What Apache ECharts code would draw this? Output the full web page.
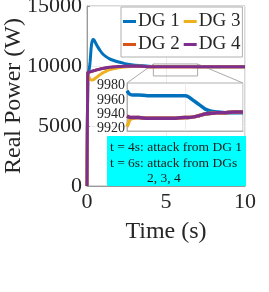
<!DOCTYPE html>
<html>
<head>
<meta charset="utf-8">
<script src="https://cdn.jsdelivr.net/npm/echarts@6/dist/echarts.min.js"></script>
<style>html,body{margin:0;padding:0;background:#fff;}#c{width:269px;height:292px;}</style>
</head>
<body>
<div id="c"></div>
<script>
// ---- main plot data ----
const timeMain = [0, 0.05, 0.1, 0.15, 0.2, 0.25, 0.3, 0.38, 0.45, 0.55, 0.7, 0.85, 1.0, 1.2, 1.4, 1.65, 2.0, 2.4, 2.8, 3.3, 4, 5, 6, 7, 8, 9, 10];
const dg1Main = [0, 9300, 9500, 9800, 10400, 11300, 11900, 12200, 12150, 11900, 11550, 11250, 11000, 10780, 10620, 10480, 10330, 10200, 10110, 10040, 9972, 9967, 9966, 9943, 9942, 9942, 9942];
const dg2Main = [0, 9440, 9470, 9490, 9510, 9530, 9550, 9580, 9610, 9650, 9700, 9750, 9790, 9840, 9880, 9915, 9945, 9965, 9978, 9984, 9937, 9934, 9935, 9942, 9943, 9943, 9943];
const dg3Main = [0, 9300, 9150, 9000, 8900, 8850, 8830, 8850, 8900, 9000, 9150, 9300, 9430, 9560, 9670, 9770, 9860, 9925, 9958, 9983, 9924, 9934, 9935, 9942, 9943, 9943, 9943];
const dg4Main = [0, 9450, 9480, 9500, 9520, 9540, 9560, 9590, 9620, 9660, 9710, 9760, 9800, 9850, 9890, 9920, 9950, 9970, 9980, 9985, 9937, 9934, 9935, 9942, 9943, 9943, 9943];
// ---- inset (zoom) data ----
const timeInset = [4, 4.05, 4.1, 4.2, 4.4, 4.7, 5, 5.5, 6, 6.1, 6.3, 6.5, 6.7, 6.9, 7.1, 7.4, 7.7, 8];
const dg1Inset = [9973, 9970, 9968, 9967, 9967, 9966, 9966, 9966, 9966, 9965, 9959, 9953, 9947, 9944, 9943, 9942, 9942, 9942];
const dg2Inset = [9937, 9936, 9935, 9935, 9935, 9934, 9934, 9934, 9935, 9935, 9936, 9938, 9940, 9941, 9942, 9942, 9943, 9943];
const dg3Inset = [9922, 9927, 9932, 9934, 9935, 9934, 9934, 9934, 9935, 9935, 9936, 9938, 9940, 9941, 9942, 9942, 9943, 9943];
const dg4Inset = [9937, 9936, 9935, 9935, 9935, 9934, 9934, 9934, 9935, 9935, 9936, 9938, 9940, 9941, 9942, 9942, 9943, 9943];
// ---- labels / ticks ----
const seriesNames = ['DG 1', 'DG 2', 'DG 3', 'DG 4'];
const legendOrder = ['DG 1', 'DG 3', 'DG 2', 'DG 4'];
const insetTicks = [9920, 9940, 9960, 9980];
const zoomBoxTime = [4.2, 7];
const zoomBoxPower = [9170, 10170];
const noteLines = ['t = 4s: attack from DG 1', 't = 6s: attack from DGs', '2, 3, 4'];

const colors = ['#0072BD', '#D95319', '#EDB120', '#7E2F8E'];
const FONT = '"Liberation Serif", "Times New Roman", serif';
const mainData = [dg1Main, dg2Main, dg3Main, dg4Main];
const insetData = [dg1Inset, dg2Inset, dg3Inset, dg4Inset];
const zip = (a, b) => a.map((v, i) => [v, b[i]]);
const plain = v => String(v);

const chart = echarts.init(document.getElementById('c'), null, {renderer: 'canvas'});

const series = [];
seriesNames.forEach((n, i) => {
  series.push({
    name: n, type: 'line', xAxisIndex: 0, yAxisIndex: 0,
    data: zip(timeMain, mainData[i]), showSymbol: false, smooth: 0.2,
    lineStyle: {color: colors[i], width: 3}, itemStyle: {color: colors[i]},
    z: 2 + i, animation: false,
    markArea: i === 0 ? {
      silent: true,
      itemStyle: {color: 'rgba(0,0,0,0)', borderColor: '#aaaaaa', borderWidth: 1},
      data: [[{coord: [zoomBoxTime[0], zoomBoxPower[1]]}, {coord: [zoomBoxTime[1], zoomBoxPower[0]]}]]
    } : undefined
  });
});
seriesNames.forEach((n, i) => {
  series.push({
    name: n, type: 'line', xAxisIndex: 1, yAxisIndex: 1,
    data: zip(timeInset, insetData[i]), showSymbol: false, smooth: 0.2,
    lineStyle: {color: colors[i], width: 3.5}, itemStyle: {color: colors[i]},
    z: 20 + i, animation: false
  });
});

const option = {
  animation: false,
  backgroundColor: '#ffffff',
  textStyle: {fontFamily: FONT},
  grid: [
    {left: 87, top: 6, width: 158, height: 180, show: true, borderColor: '#b0b0b0', borderWidth: 1, backgroundColor: '#fff', containLabel: false, outerBoundsMode: 'none'},
    {left: 127, top: 83, width: 116, height: 48, show: true, borderColor: '#b0b0b0', borderWidth: 1, backgroundColor: '#fff', z: 10, containLabel: false, outerBoundsMode: 'none'}
  ],
  xAxis: [
    {type: 'value', gridIndex: 0, min: 0, max: 10, interval: 5,
     name: 'Time (s)', nameLocation: 'middle', nameGap: 34, nameMoveOverlap: false,
     nameTextStyle: {fontFamily: FONT, fontSize: 24, color: '#262626'},
     axisLine: {show: true, lineStyle: {color: '#999'}},
     axisTick: {show: true, inside: true, length: 3, lineStyle: {color: '#999'}},
     axisLabel: {fontFamily: FONT, fontSize: 22, color: '#262626', margin: 5, formatter: plain},
     splitLine: {show: true, lineStyle: {color: '#ececec', width: 1}}},
    {type: 'value', gridIndex: 1, min: 4, max: 8, interval: 2, z: 10,
     axisLine: {show: true, lineStyle: {color: '#b0b0b0'}},
     axisTick: {show: false}, axisLabel: {show: false},
     splitLine: {show: true, lineStyle: {color: '#ececec', width: 1}}}
  ],
  yAxis: [
    {type: 'value', gridIndex: 0, min: 0, max: 15000, interval: 5000,
     name: 'Real Power (W)', nameLocation: 'middle', nameGap: 61, nameMoveOverlap: false,
     nameTextStyle: {fontFamily: FONT, fontSize: 24, color: '#262626'},
     axisLine: {show: true, lineStyle: {color: '#999'}},
     axisTick: {show: true, inside: true, length: 3, lineStyle: {color: '#999'}},
     axisLabel: {fontFamily: FONT, fontSize: 22, color: '#262626', margin: 5, formatter: plain},
     splitLine: {show: true, lineStyle: {color: '#ececec', width: 1}}},
    {type: 'value', gridIndex: 1, min: 9916, max: 9984, z: 10,
     axisLine: {show: true, lineStyle: {color: '#b0b0b0'}},
     axisTick: {show: false},
     axisLabel: {fontFamily: FONT, fontSize: 14, color: '#262626', margin: 2, customValues: insetTicks, formatter: plain},
     splitLine: {show: false}}
  ],
  legend: {
    data: legendOrder, left: 121, top: 7, width: 122,
    orient: 'horizontal', itemGap: 4, itemWidth: 13, itemHeight: 3, icon: 'rect',
    padding: [5, 2, 3, 2], borderColor: '#b0b0b0', borderWidth: 1, backgroundColor: '#fff',
    textStyle: {fontFamily: FONT, fontSize: 19, color: '#262626', padding: [0, 0, 0, -3]},
    selectedMode: false, z: 30
  },
  series: series
};
chart.setOption(option);

// annotation box + connector lines computed from the axes
const tl = chart.convertToPixel({gridIndex: 0}, [zoomBoxTime[0], zoomBoxPower[1]]);
const tr = chart.convertToPixel({gridIndex: 0}, [zoomBoxTime[1], zoomBoxPower[1]]);
const itl = chart.convertToPixel({gridIndex: 1}, [4, 9984]);
const itr = chart.convertToPixel({gridIndex: 1}, [8, 9984]);
chart.setOption({
  graphic: [
    {type: 'line', shape: {x1: tl[0], y1: tl[1], x2: itl[0], y2: itl[1]}, style: {stroke: '#aaaaaa', lineWidth: 1}, z: 5},
    {type: 'line', shape: {x1: tr[0], y1: tr[1], x2: itr[0], y2: itr[1]}, style: {stroke: '#aaaaaa', lineWidth: 1}, z: 5},
    {type: 'rect', left: 107, top: 136, shape: {width: 138, height: 49}, style: {fill: '#00FFFF', stroke: '#00FFFF'}, z: 40},
    {type: 'text', left: 110, top: 140, style: {text: noteLines[0], font: '13.5px ' + FONT, fill: '#1a1a1a'}, z: 41},
    {type: 'text', left: 110, top: 156, style: {text: noteLines[1], font: '13.5px ' + FONT, fill: '#1a1a1a'}, z: 41},
    {type: 'text', left: 147, top: 171, style: {text: noteLines[2], font: '13.5px ' + FONT, fill: '#1a1a1a'}, z: 41}
  ]
});
</script>
</body>
</html>
